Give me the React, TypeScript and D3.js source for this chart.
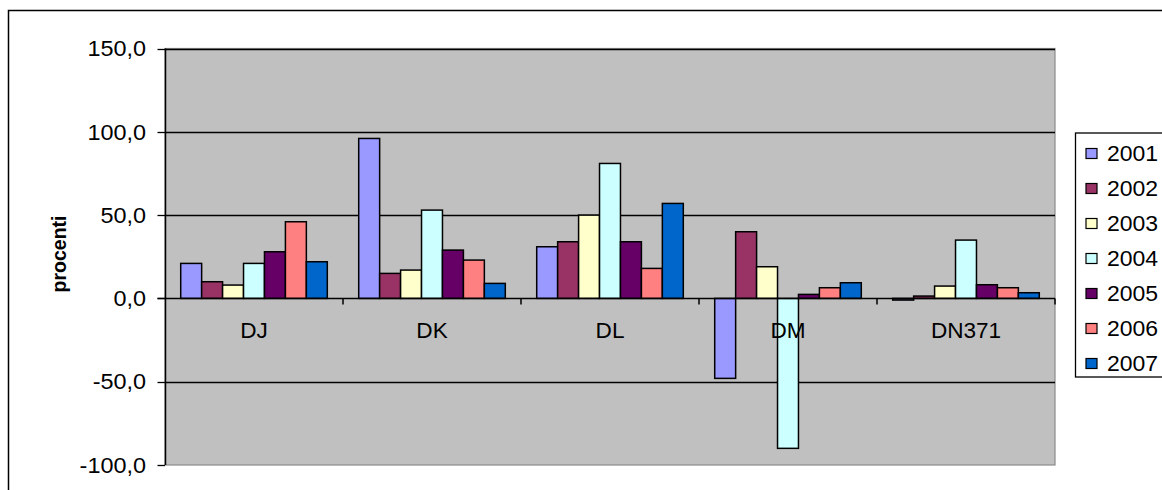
import React from "react";
import * as d3 from "d3";

const categories = ["DJ", "DK", "DL", "DM", "DN371"];
const years = ["2001", "2002", "2003", "2004", "2005", "2006", "2007"];
const v2001 = [21, 96, 31, -48, -1];
const v2002 = [10, 15, 34, 40, 1.4];
const v2003 = [8, 17, 50, 19, 7.4];
const v2004 = [21, 53, 81, -90, 35];
const v2005 = [28, 29, 34, 2.4, 8.2];
const v2006 = [46, 23, 18, 6.4, 6.4];
const v2007 = [22, 9, 57, 9.4, 3.4];
const seriesValues = [v2001, v2002, v2003, v2004, v2005, v2006, v2007];
const colors = ["#9999FF", "#993366", "#FFFFCC", "#CCFFFF", "#660066", "#FF8080", "#0066CC"];
const yTicks = [-100, -50, 0, 50, 100, 150];

const W = 1162, H = 490;
const plot = { left: 165, right: 1055, top: 48.5, bottom: 465 };
const font = "Arial, 'Liberation Sans', sans-serif";
const FS = 21.5;
const SX = 1.09;

export default function App() {
  const y = d3.scaleLinear().domain([-100, 150]).range([plot.bottom, plot.top]);
  const x0 = d3.scaleBand().domain(categories).range([plot.left, plot.right]).paddingInner(0).paddingOuter(0);
  const bw = x0.bandwidth() / 8.5;
  const fmt = (v: number) => d3.format(".1f")(v).replace(".", ",").replace("−", "-");
  const zero = y(0);
  const py = (v: number) => Math.round(y(v)) + 0.5;
  return (
    <svg width={W} height={H} style={{ position: "absolute", left: 0, top: 0 }} fontFamily={font}>
      <rect x={0} y={0} width={W} height={H} fill="#fff" />
      <rect x={8.5} y={10.5} width={1200} height={500} fill="none" stroke="#000" strokeWidth={1.5} />
      <rect x={plot.left} y={plot.top} width={plot.right - plot.left} height={plot.bottom - plot.top} fill="#C0C0C0" stroke="#8a8a8a" strokeWidth={1.2} />
      {yTicks.map((t) => (
        <g key={t}>
          {t !== -100 && t !== 0 && (
            <line x1={plot.left} x2={plot.right} y1={py(t)} y2={py(t)} stroke="#000" strokeWidth={1.3} />
          )}
          <line x1={plot.left - 7.5} x2={plot.left} y1={py(t)} y2={py(t)} stroke="#000" strokeWidth={1.3} />
          <text transform={`translate(146,${y(t)}) scale(${SX},1)`} dy="0.36em" textAnchor="end" fontSize={FS} fill="#000">{fmt(t)}</text>
        </g>
      ))}
      <text transform={`translate(66,254) rotate(-90)`} textAnchor="middle" fontSize={19.5} fontWeight="bold" fill="#000">procenti</text>
      {categories.map((c, ci) => (
        <g key={c}>
          {seriesValues.map((vals, si) => {
            const v = vals[ci];
            const bx = (x0(c) as number) + bw * 0.75 + si * bw;
            const yt = Math.min(y(v), zero);
            const h = Math.abs(y(v) - zero);
            return <rect key={si} x={bx} y={yt} width={bw} height={h} fill={colors[si]} stroke="#000" strokeWidth={1.5} />;
          })}
          <text transform={`translate(${(x0(c) as number) + x0.bandwidth() / 2},337.5) scale(1.05,1)`} textAnchor="middle" fontSize={FS} fill="#000">{c}</text>
        </g>
      ))}
      <line x1={plot.left - 7.5} x2={plot.right} y1={py(0)} y2={py(0)} stroke="#000" strokeWidth={1.5} />
      {categories.map((c) => (
        <line key={c} x1={(x0(c) as number) + x0.bandwidth()} x2={(x0(c) as number) + x0.bandwidth()} y1={zero} y2={zero + 6} stroke="#000" strokeWidth={1.5} />
      ))}
      <line x1={plot.left + 0.5} x2={plot.left + 0.5} y1={plot.top} y2={plot.bottom} stroke="#000" strokeWidth={1.5} />
      <rect x={1075.5} y={133} width={120} height={244} fill="#fff" stroke="#000" strokeWidth={1.3} />
      {years.map((yr, i) => {
        const cy = 153.5 + i * 35;
        return (
          <g key={yr}>
            <rect x={1086} y={cy - 5} width={11} height={10} fill={colors[i]} stroke="#000" strokeWidth={1.2} />
            <text transform={`translate(1107,${cy}) scale(1.07,1)`} dy="0.36em" fontSize={FS} fill="#000">{yr}</text>
          </g>
        );
      })}
    </svg>
  );
}
